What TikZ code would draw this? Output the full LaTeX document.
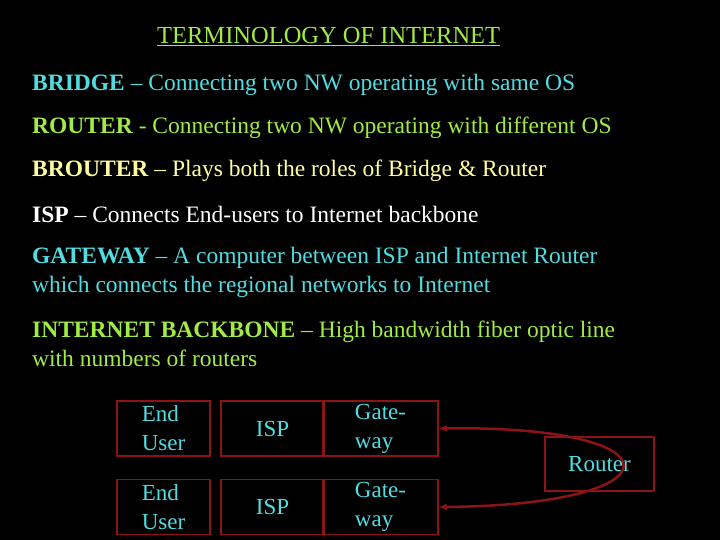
\documentclass[tikz,border=0pt]{standalone}
\usepackage{fontspec}
\setmainfont{Liberation Serif}
\usetikzlibrary{arrows.meta}
\begin{document}
\begin{tikzpicture}[x=1pt,y=-1pt,
  cy/.style={color={rgb,255:red,80;green,220;blue,225}},
  gr/.style={color={rgb,255:red,160;green,235;blue,70}},
  ye/.style={color={rgb,255:red,255;green,255;blue,160}},
  line/.style={anchor=west,font=\fontsize{23.5}{29}\selectfont,align=left,inner sep=0pt},
  bx/.style={draw={rgb,255:red,140;green,20;blue,20},line width=1.5pt,minimum width=#1,minimum height=55pt,inner sep=0pt,
    font=\fontsize{23}{29}\selectfont,text={rgb,255:red,80;green,220;blue,225},align=left},
  bx/.default=93pt]
\fill[black] (0,0) rectangle (720,540);
\useasboundingbox (0,0) rectangle (720,540);
\node[line,gr,font=\fontsize{24.5}{29}\selectfont] (title) at (157,37) {\underline{TERMINOLOGY OF INTERNET}};
\node[line,cy] (l1) at (32,85) {\textbf{BRIDGE} -- Connecting two NW operating with same OS};
\node[line,gr] (l2) at (32,128) {\textbf{ROUTER} - Connecting two NW operating with different OS};
\node[line,ye] (l3) at (32,171) {\textbf{BROUTER} -- Plays both the roles of Bridge \& Router};
\node[line,white] (l4) at (32,214) {\textbf{ISP} -- Connects End-users to Internet backbone};
\node[line,cy] (l5) at (32,272) {\textbf{GATEWAY} -- A computer between ISP and Internet Router\\which connects the regional networks to Internet};
\node[line,gr] (l6) at (32,344) {\textbf{INTERNET BACKBONE} -- High bandwidth fiber optic line\\with numbers of routers};
\node[bx] (e1) at (163.5,428.5) {End\\User};
\node[bx] (e2) at (163.5,507) {End\\User};
\node[bx=103pt] (i1) at (272.5,428.5) {ISP};
\node[bx=103pt] (i2) at (272.5,507) {ISP};
\node[bx=115pt] (g1) at (380.5,428.5) {Gate-\\way};
\node[bx=115pt] (g2) at (380.5,507) {Gate-\\way};
\node[bx=109pt,minimum height=54pt] (r) at (599.5,464) {Router};
\draw[{Latex[length=8pt,width=7pt]}-{Latex[length=8pt,width=7pt]},draw={rgb,255:red,140;green,20;blue,20},line width=2.5pt]
  (g1.east) .. controls (683,425) and (683,505) .. (g2.east);
\end{tikzpicture}
\end{document}
